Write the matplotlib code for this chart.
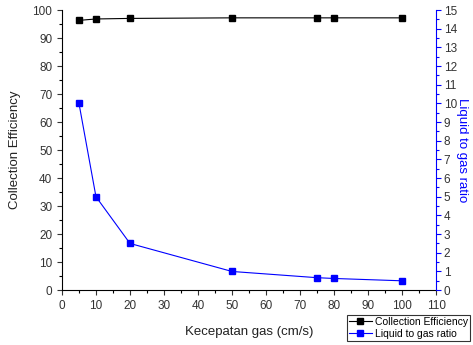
import matplotlib
matplotlib.use("Agg")
import matplotlib.pyplot as plt
from matplotlib.ticker import MultipleLocator

plt.rcParams["font.family"] = ["Liberation Sans", "DejaVu Sans"]

speed = [5, 10, 20, 50, 75, 80, 100]
efficiency = [96.3, 96.8, 97.0, 97.2, 97.2, 97.2, 97.2]
lg_ratio = [10.0, 5.0, 2.5, 1.0, 0.667, 0.625, 0.5]

fig = plt.figure(figsize=(4.73, 3.45), dpi=100)
ax = fig.add_axes([0.131, 0.159, 0.791, 0.812])
ax2 = ax.twinx()

l1, = ax.plot(speed, efficiency, color="black", marker="s", markersize=4.5,
              linewidth=0.8, label="Collection Efficiency")
l2, = ax2.plot(speed, lg_ratio, color="blue", marker="s", markersize=4.5,
               linewidth=0.8, label="Liquid to gas ratio")

ax.set_xlim(0, 110)
ax.set_ylim(0, 100)
ax2.set_ylim(0, 15)

ax.xaxis.set_major_locator(MultipleLocator(10))
ax.xaxis.set_minor_locator(MultipleLocator(5))
ax.yaxis.set_major_locator(MultipleLocator(10))
ax.yaxis.set_minor_locator(MultipleLocator(5))
ax2.yaxis.set_major_locator(MultipleLocator(1))
ax2.yaxis.set_minor_locator(MultipleLocator(0.5))

for a in (ax, ax2):
    a.spines["top"].set_visible(False)
    for s in a.spines.values():
        s.set_linewidth(0.8)
ax.spines["right"].set_visible(False)
ax2.spines["left"].set_visible(False)
ax2.spines["bottom"].set_visible(False)
ax2.spines["right"].set_color("blue")

ax.tick_params(which="major", direction="out", length=3.5, width=0.8, labelsize=8.5, colors="#333333")
ax.tick_params(which="minor", direction="out", length=2, width=0.8)
ax2.tick_params(which="major", direction="out", length=3.5, width=0.8, labelsize=8.5,
                colors="blue", labelcolor="#333333", pad=2)
ax2.tick_params(which="minor", direction="out", length=2, width=0.8, colors="blue")

ax.set_xlabel("Kecepatan gas (cm/s)", fontsize=9.5, color="#222222", labelpad=10)
ax.set_ylabel("Collection Efficiency", fontsize=9.5, color="#222222", labelpad=8)
ax2.set_ylabel("Liquid to gas ratio", fontsize=9.5, color="blue", rotation=-90, labelpad=8)

leg = fig.legend(handles=[l1, l2], loc="upper left", bbox_to_anchor=(0.733, 0.087),
                 fontsize=7.5, frameon=True, fancybox=False, borderpad=0.2,
                 handlelength=2.2, handletextpad=0.3, labelspacing=0.15,
                 borderaxespad=0)
leg.get_frame().set_edgecolor("black")
leg.get_frame().set_linewidth(0.8)

fig.savefig("out.png", dpi=100)
